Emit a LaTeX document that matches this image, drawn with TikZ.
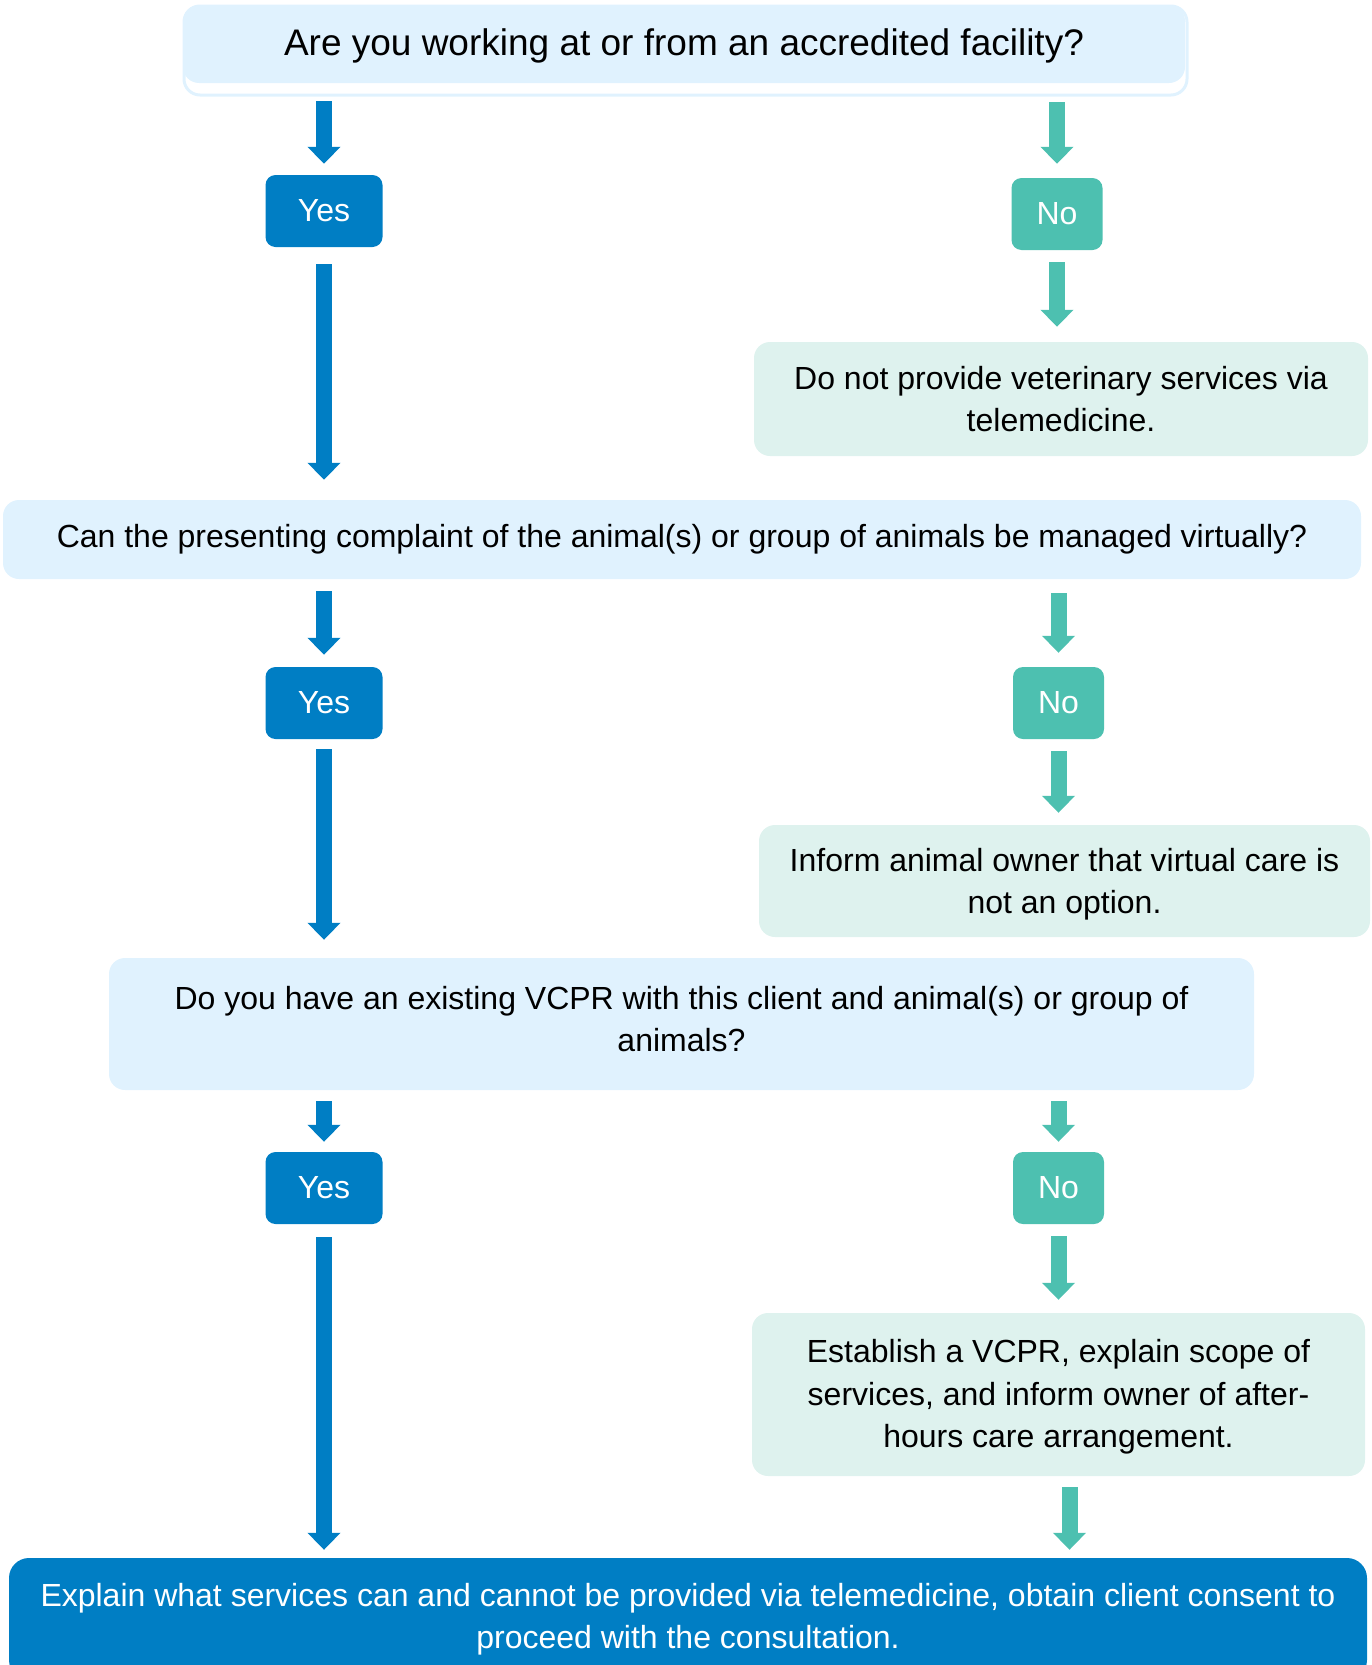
\documentclass[tikz,border=0pt]{standalone}
\usepackage{fontspec}
\setmainfont{Liberation Sans}
\usetikzlibrary{positioning,arrows.meta}
\definecolor{vblue}{RGB}{0,126,196}
\definecolor{vteal}{RGB}{77,192,176}
\definecolor{qfill}{RGB}{224,242,254}
\definecolor{nfill}{RGB}{222,242,238}
\tikzset{qbox/.style={rounded corners=16pt,fill=qfill,align=center,inner sep=0pt,font=\fontsize{32}{42.5}\selectfont},
	 sbox/.style={qbox,fill=nfill},
	 ybox/.style={rounded corners=10pt,fill=vblue,text=white,inner sep=0pt,minimum width=117pt,minimum height=72pt,font=\fontsize{32}{38}\selectfont},
	 nbox/.style={ybox,fill=vteal,minimum width=91pt},
	 yarr/.style={draw=vblue,line width=16pt,-{Triangle[width=32pt,length=17pt]},shorten <=12pt,shorten >=12pt},
	 narr/.style={yarr,draw=vteal}
	 }

\begin{document}
\begin{tikzpicture}[x=1pt,y=-1pt]
      \useasboundingbox (0,0) rectangle (1371,1665);
      \clip (0,0) rectangle (1371,1665);
      \draw[qfill,line width=3pt,rounded corners=16pt] (184,6) rectangle (1187,95);
      \node[qbox,minimum width=1002pt,minimum height=78pt,text depth=4pt,font=\fontsize{37}{44}\selectfont] (q1) at (684,44) {Are you working at or from an accredited facility?};
      \node[ybox] (yes1) at (324,211) {Yes};
      \node[nbox] (no1) at (1057,214) {No};
      \node[sbox,minimum width=614pt,minimum height=114pt] (stop1) at (1061,399) {Do not provide veterinary services via\\telemedicine.};
      \node[qbox,minimum width=1358pt,minimum height=79pt] (q2) at (682,539.5) {Can the presenting complaint of the animal(s) or group of animals be managed virtually?};
      \node[ybox] (yes2) at (324,703) {Yes};
      \node[nbox] (no2) at (1058.5,703) {No};
      \node[sbox,minimum width=611pt,minimum height=112pt,text depth=0pt] (stop2) at (1064.5,881) {Inform animal owner that virtual care is\\not an option.};
      \node[qbox,minimum width=1145pt,minimum height=132pt,text depth=10pt] (q3) at (681.5,1024) {Do you have an existing VCPR with this client and animal(s) or group of\\animals?};
      \node[ybox] (yes3) at (324,1188) {Yes};
      \node[nbox] (no3) at (1058.5,1188) {No};
      \node[sbox,minimum width=613pt,minimum height=163pt,text depth=2pt] (est) at (1058.5,1394.5) {Establish a VCPR, explain scope of\\services, and inform owner of after-\\hours care arrangement.};
      \node[qbox,fill=vblue,text=white,rounded corners=20pt,minimum width=1358pt,minimum height=122pt] (final) at (688,1619) {Explain what services can and cannot be provided via telemedicine, obtain client consent to\\proceed with the consultation.};
      % yes side
      \draw[yarr,shorten <=18pt,shorten >=11pt] (q1.south -| yes1) -- (yes1);
      \draw[yarr,shorten <=17pt,shorten >=20pt] (yes1) -- (q2.north -| yes1);
      \draw[yarr] (q2.south -| yes2) -- (yes2);
      \draw[yarr,shorten <=10pt,shorten >=18pt] (yes2) -- (q3.north -| yes2);
      \draw[yarr,shorten <=11pt,shorten >=10pt] (q3.south -| yes3) -- (yes3);
      \draw[yarr,shorten <=13pt,shorten >=8pt] (yes3) -- (final.north -| yes3);
      % no side
      \draw[narr,shorten <=19pt,shorten >=14pt] (q1.south -| no1) -- (no1);
      \draw[narr,shorten >=15pt] (no1) -- (stop1.north -| no1);
      \draw[narr,shorten <=14pt,shorten >=14pt] (q2.south -| no2) -- (no2);
      \draw[narr] (no2) -- (stop2.north -| no2);
      \draw[narr,shorten <=11pt,shorten >=10pt] (q3.south -| no3) -- (no3);
      \draw[narr,shorten >=13pt] (no3) -- (est);
      \draw[narr,shorten <=11pt,shorten >=8pt] ([xshift=11pt]est.south) -- ([xshift=11pt]est.south |- final.north);
\end{tikzpicture}
\end{document}
